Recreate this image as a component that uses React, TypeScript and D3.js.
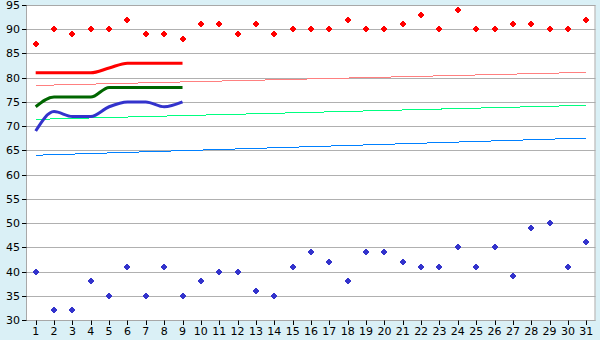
import React from "react";
import * as d3 from "d3";

const categories = d3.range(1, 32).map(String);
const yTicks = [30, 35, 40, 45, 50, 55, 60, 65, 70, 75, 80, 85, 90, 95];

const redPoints = [87, 90, 89, 90, 90, 92, 89, 89, 88, 91, 91, 89, 91, 89, 90, 90, 90, 92, 90, 90, 91, 93, 90, 94, 90, 90, 91, 91, 90, 90, 92];
const bluePoints = [40, 32, 32, 38, 35, 41, 35, 41, 35, 38, 40, 40, 36, 35, 41, 44, 42, 38, 44, 44, 42, 41, 41, 45, 41, 45, 39, 49, 50, 41, 46];

const redLine = [81, 81, 81, 81, 82, 83, 83, 83, 83];
const greenLine = [74, 76, 76, 76, 78, 78, 78, 78, 78];
const blueLine = [69, 73, 72, 72, 74, 75, 75, 74, 75];

// thin straight lines: value at category 1 and at category 31
const pinkTrend = [78.4, 81.1];
const greenTrend = [71.4, 74.3];
const blueTrend = [64.0, 67.55];

const W = 600, H = 340;
const left = 26.5, right = 595.5, top = 5, bottom = 320;

export default function App() {
  const x = d3.scaleBand<string>().domain(categories).range([left, right]);
  const cx = (c: string) => (x(c) as number) + x.bandwidth() / 2;
  const y = d3.scaleLinear().domain([30, 95]).range([bottom, top]);

  const thick = (vals: number[]) =>
    d3.line<number>().x((_, i) => cx(categories[i])).y(v => y(v)).curve(d3.curveMonotoneX)(vals) as string;
  const trend = (vals: number[]) =>
    d3.line<number>().x((_, i) => cx(i === 0 ? categories[0] : categories[categories.length - 1])).y(v => y(v))(vals) as string;

  const marker = (px: number, py: number) =>
    `M${px - 1},${py - 3}h2v1h1v1h1v2h-1v1h-1v1h-2v-1h-1v-1h-1v-2h1v-1h1z`;

  const font = "'DejaVu Sans', Verdana, sans-serif";

  return (
    <div>
      <style>{`body{margin:0}`}</style>
      <svg width={W} height={H} style={{ display: "block" }}>
        <rect x={0} y={0} width={W} height={H} fill="#DAF0F6" />
        <rect x={left} y={top} width={right - left} height={bottom - top} fill="#FFFFFF" />
        {yTicks.map(t => (
          <line key={t} x1={left} x2={right} y1={Math.round(y(t)) + 0.5} y2={Math.round(y(t)) + 0.5} stroke="#B0B0B0" strokeWidth={1} />
        ))}
        <rect x={left} y={top + 0.5} width={right - left - 0.5} height={bottom - top} fill="none" stroke="#A8A8A8" strokeWidth={1} />
        {yTicks.map(t => (
          <g key={"yt" + t}>
            <line x1={22} x2={left} y1={Math.round(y(t)) + 0.5} y2={Math.round(y(t)) + 0.5} stroke="#000" />
            <text x={20} y={y(t) + 4} textAnchor="end" fontFamily={font} fontSize={11} fill="#000">{t}</text>
          </g>
        ))}
        {categories.map(c => (
          <g key={"xt" + c}>
            <line x1={Math.round(cx(c)) + 0.5} x2={Math.round(cx(c)) + 0.5} y1={bottom + 0.5} y2={bottom + 5} stroke="#000" />
            <text x={cx(c)} y={bottom + 15} textAnchor="middle" fontFamily={font} fontSize={11} fill="#000">{c}</text>
          </g>
        ))}
        <path d={trend(pinkTrend)} fill="none" stroke="#FF8080" strokeWidth={1} shapeRendering="crispEdges" />
        <path d={trend(greenTrend)} fill="none" stroke="#00FF80" strokeWidth={1} shapeRendering="crispEdges" />
        <path d={trend(blueTrend)} fill="none" stroke="#0080FF" strokeWidth={1} shapeRendering="crispEdges" />
        <path d={thick(redLine)} fill="none" stroke="#FF0000" strokeWidth={3} />
        <path d={thick(greenLine)} fill="none" stroke="#006600" strokeWidth={3} />
        <path d={thick(blueLine)} fill="none" stroke="#3333CC" strokeWidth={3} />
        {redPoints.map((v, i) => (
          <path key={"r" + i} d={marker(Math.round(cx(categories[i])), Math.round(y(v)))} fill="#FF0000" />
        ))}
        {bluePoints.map((v, i) => (
          <path key={"b" + i} d={marker(Math.round(cx(categories[i])), Math.round(y(v)))} fill="#3333CC" />
        ))}
      </svg>
    </div>
  );
}
